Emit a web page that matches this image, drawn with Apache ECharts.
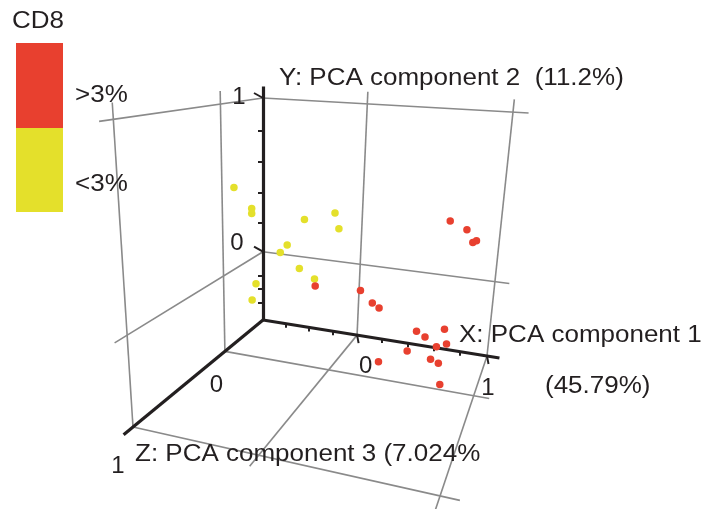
<!DOCTYPE html>
<html><head><meta charset="utf-8">
<script src="https://cdn.jsdelivr.net/npm/echarts@6/dist/echarts.min.js"></script>
<style>html,body{margin:0;padding:0;background:#fff}#c{width:710px;height:509px}</style>
</head><body><div id="c"></div>
<script>
// ---------------- data ----------------
const groupNames = ['>3%', '<3%'];
const legendTitle = 'CD8';
// CD8 > 3% (red): PC1, PC2, PC3
const highX = [0.79, 0.89, 0.93, 0.95, -0.03, 0.27, 0.35, 0.395, 0.41, 0.64, 0.695, 0.81, 0.59, 0.77, 0.83, 0.74, 0.79, 0.81];
const highY = [0.525, 0.49, 0.43, 0.44, 0.09, 0.10, 0.04, 0.018, -0.29, -0.08, -0.105, -0.045, -0.20, -0.15, -0.125, -0.225, -0.24, -0.36];
const highZ = [0.2, 0.2, 0.2, 0.2, 0.2, 0.2, 0.2, 0.2, 0.2, 0.2, 0.2, 0.2, 0.2, 0.2, 0.2, 0.2, 0.2, 0.2];
// CD8 < 3% (yellow)
const lowX = [-0.71, -0.58, -0.58, -0.20, 0.01, 0.04, -0.32, -0.37, -0.23, -0.12, -0.55, -0.58];
const lowY = [0.54, 0.43, 0.40, 0.40, 0.455, 0.37, 0.24, 0.19, 0.11, 0.06, -0.02, -0.125];
const lowZ = [0, 0, 0, 0, 0, 0, 0, 0, 0, 0, 0, 0];
// axes
const xRange = [-0.8, 1];
const yRange = [-0.49, 1];
const zRange = [-0.58, 1];
const axisEnd = [1.09, 1.07, 1.08];
const gridEnd = [1.1, 1.07, 1.1];
const gridValues = [0, 1];
const xTicks = [-0.6, -0.4, -0.2, 0, 0.2, 0.4, 0.6, 0.8, 1];
const yTicks = [-0.36, -0.26, -0.17, 0, 0.2, 0.4, 0.6, 0.8, 1];
const majorTicks = [0, 1];
const xTickLabels = ['0', '1'];
const yTickLabels = ['0', '1'];
const zTickLabels = ['0', '1'];
const xTitle = 'X: PCA component 1';
const xTitle2 = '(45.79%)';
const yTitle = 'Y: PCA component 2  (11.2%)';
const zTitle = 'Z: PCA component 3 (7.024%';

// ---------------- view / style ----------------
const view = { origin: [263, 320], xEnd: [487, 356], yEnd: [263, 98], zEnd: [133, 427], persp: [-0.095, -0.094, -0.285] };
const RED = '#e8402f', YELLOW = '#e4e02b', GRAY = '#8a8a8a', INK = '#231f20';
const FONT = '23px "Liberation Sans", Arial, Helvetica, sans-serif';
const DIGIT_FONT = '24px "Liberation Sans", Arial, Helvetica, sans-serif';
const SX = 1.13;

function vec(end, w) { return [end[0] * (1 + w) - view.origin[0], end[1] * (1 + w) - view.origin[1]]; }
const VA = vec(view.xEnd, view.persp[0]), VB = vec(view.yEnd, view.persp[1]), VC = vec(view.zEnd, view.persp[2]);
function project(x, y, z) {
  const X = (x - xRange[0]) / (xRange[1] - xRange[0]);
  const Y = (y - yRange[0]) / (yRange[1] - yRange[0]);
  const Z = (z - zRange[0]) / (zRange[1] - zRange[0]);
  const d = 1 + view.persp[0] * X + view.persp[1] * Y + view.persp[2] * Z;
  return [(view.origin[0] + X * VA[0] + Y * VB[0] + Z * VC[0]) / d,
          (view.origin[1] + X * VA[1] + Y * VB[1] + Z * VC[1]) / d];
}
const xm = xRange[0], ym = yRange[0], zm = zRange[0];

// gray grid lines on the three back walls
const gridLines = [];
gridValues.forEach(v => {
  gridLines.push([[xm, v, zm], [xm, v, gridEnd[2]]]);   // left wall, y = v
  gridLines.push([[xm, ym, v], [xm, gridEnd[1], v]]);   // left wall, z = v
  gridLines.push([[xm, v, zm], [gridEnd[0], v, zm]]);   // back wall, y = v
  gridLines.push([[v, ym, zm], [v, gridEnd[1], zm]]);   // back wall, x = v
  gridLines.push([[xm, ym, v], [gridEnd[0], ym, v]]);   // floor, z = v
  gridLines.push([[v, ym, zm], [v, ym, gridEnd[2]]]);   // floor, x = v
});
const axisLines = [
  [[xm, ym, zm], [axisEnd[0], ym, zm]],
  [[xm, ym, zm], [xm, axisEnd[1], zm]],
  [[xm, ym, zm], [xm, ym, axisEnd[2]]]
];
const toCoords = seg => ({ coords: seg.map(p => project(p[0], p[1], p[2])) });

const tickSegs = [];
xTicks.forEach(v => {
  const p = project(v, ym, zm);
  const major = majorTicks.includes(v);
  tickSegs.push({ coords: [p, [p[0] + (major ? 1.5 : 0), p[1] + (major ? 8 : 4)]] });
});
yTicks.forEach(v => {
  const p = project(xm, v, zm);
  const major = majorTicks.includes(v);
  tickSegs.push({ coords: [p, major ? [p[0] - 9, p[1] - 5] : [p[0] - 5, p[1]]] });
});

const redPts = highX.map((x, i) => project(x, highY[i], highZ[i]));
const yelPts = lowX.map((x, i) => project(x, lowY[i], lowZ[i]));

function txt(str, x, y, align, sx, font) {
  return { type: 'text', x: x, y: y, scaleX: sx || SX, z: 10,
    style: { text: str, font: font || FONT, fill: INK, align: align, verticalAlign: 'middle', textAlign: align, textVerticalAlign: 'middle' } };
}

const chart = echarts.init(document.getElementById('c'), null, { renderer: 'canvas' });
const graphics = [
  txt(legendTitle, 12, 22, 'left'),
  { type: 'rect', shape: { x: 16, y: 43, width: 47, height: 85 }, style: { fill: RED } },
  { type: 'rect', shape: { x: 16, y: 128, width: 47, height: 84 }, style: { fill: YELLOW } },
  txt(groupNames[0], 75, 96, 'left'),
  txt(groupNames[1], 75, 185, 'left'),
  txt(yTitle, 279, 79, 'left'),
  txt(xTitle, 459, 336, 'left'),
  txt(xTitle2, 545, 387, 'left'),
  txt(zTitle, 135, 455, 'left')
];
const yl = [project(xm, 0, zm), project(xm, 1, zm)];
graphics.push(txt(yTickLabels[0], yl[0][0] - 26, yl[0][1] - 8, 'center', 1.0, DIGIT_FONT));
graphics.push(txt(yTickLabels[1], yl[1][0] - 24, yl[1][1] - 0.5, 'center', 1.0, DIGIT_FONT));
const xl = [project(0, ym, zm), project(1, ym, zm)];
graphics.push(txt(xTickLabels[0], xl[0][0] + 8.5, xl[0][1] + 31.5, 'center', 1.0, DIGIT_FONT));
graphics.push(txt(xTickLabels[1], xl[1][0] + 1, xl[1][1] + 32, 'center', 1.0, DIGIT_FONT));
const zl = [project(xm, ym, 0), project(xm, ym, 1)];
graphics.push(txt(zTickLabels[0], zl[0][0] - 8.5, zl[0][1] + 34, 'center', 1.0, DIGIT_FONT));
graphics.push(txt(zTickLabels[1], zl[1][0] - 15, zl[1][1] + 39, 'center', 1.0, DIGIT_FONT));

chart.setOption({
  animation: false,
  backgroundColor: '#ffffff',
  grid: { left: 0, right: 0, top: 0, bottom: 0 },
  xAxis: { type: 'value', min: 0, max: 710, show: false },
  yAxis: { type: 'value', min: 0, max: 509, inverse: true, show: false },
  series: [
    { type: 'lines', coordinateSystem: 'cartesian2d', z: 1, silent: true,
      lineStyle: { color: GRAY, width: 1.6, opacity: 1 }, data: gridLines.map(toCoords) },
    { type: 'lines', coordinateSystem: 'cartesian2d', z: 2, silent: true,
      lineStyle: { color: INK, width: 3.2, opacity: 1 }, data: axisLines.map(toCoords) },
    { type: 'lines', coordinateSystem: 'cartesian2d', z: 2, silent: true,
      lineStyle: { color: INK, width: 2, opacity: 1 }, data: tickSegs },
    { name: groupNames[1], type: 'scatter', z: 3, symbol: 'circle', symbolSize: 7.5,
      itemStyle: { color: YELLOW, opacity: 1 }, data: yelPts },
    { name: groupNames[0], type: 'scatter', z: 3, symbol: 'circle', symbolSize: 7.5,
      itemStyle: { color: RED, opacity: 1 }, data: redPts }
  ],
  graphic: graphics
});
</script>
</body></html>
